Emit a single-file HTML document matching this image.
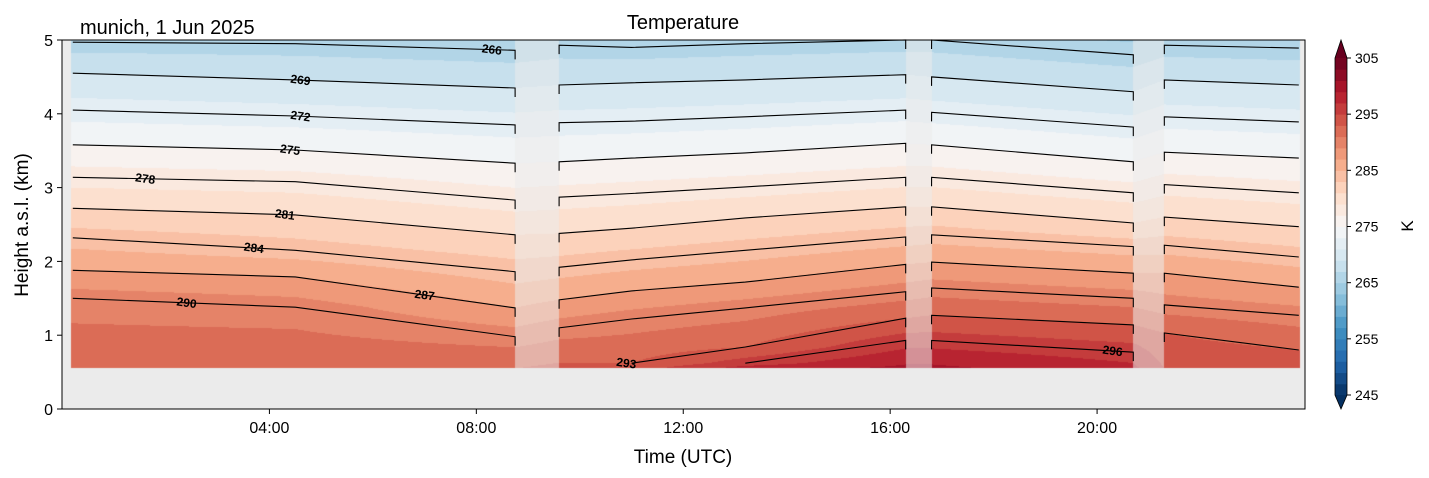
<!DOCTYPE html>
<html><head><meta charset="utf-8"><style>
html,body{margin:0;padding:0;background:#fff;}
#wrap{position:relative;width:1429px;height:478px;overflow:hidden;}
canvas,svg{position:absolute;left:0;top:0;}
text{font-family:"Liberation Sans",sans-serif;fill:#000;}
</style></head><body>
<div id="wrap">
<canvas id="cv" width="1429" height="478"></canvas>
<svg id="sv" width="1429" height="478"></svg>
</div>
<script>
// ---- data ----
const times=[0.2,4.5,8.75,9.6,11,13.2,16.3,16.8,20.7,21.3,23.9];
const contourLevels=[266,269,272,275,278,281,284,287,290,293,296];
const heightsT0=[4.97,4.55,4.05,3.58,3.14,2.72,2.32,1.88,1.50,null,null];
const heightsT1=[4.95,4.46,3.97,3.51,3.08,2.63,2.15,1.79,1.38,null,null];
const heightsT2=[4.86,4.35,3.85,3.33,2.83,2.36,1.86,1.37,0.98,null,null];
const heightsT3=[4.93,4.39,3.88,3.35,2.87,2.38,1.92,1.48,1.10,null,null];
const heightsT4=[4.90,4.42,3.90,3.40,2.92,2.45,2.02,1.60,1.22,0.62,null];
const heightsT5=[4.95,4.46,3.96,3.47,3.01,2.59,2.15,1.72,1.37,0.84,0.62];
const heightsT6=[5.00,4.53,4.05,3.60,3.14,2.74,2.33,1.96,1.59,1.23,0.93];
const heightsT7=[5.00,4.50,4.02,3.58,3.14,2.74,2.36,1.99,1.64,1.27,0.93];
const heightsT8=[4.80,4.30,3.82,3.35,2.93,2.52,2.20,1.84,1.50,1.14,0.77];
const heightsT9=[4.93,4.46,3.96,3.48,3.04,2.60,2.22,1.84,1.41,1.03,null];
const heightsT10=[4.89,4.39,3.89,3.40,2.93,2.47,2.06,1.65,1.27,0.80,null];
const surfaceT=[292.8,292.8,293,293.5,294,298,299.5,299.5,297.5,295,294.5];
const surfaceHeight=0.55;
const dataSegments=[[0.2,8.75],[9.6,16.3],[16.8,20.7],[21.3,23.9]];
const gaps=[[8.75,9.6],[16.3,16.8],[20.7,21.3]];
const labelLevels=[266,269,272,275,278,281,284,287,290,293,296];
const labelTimes=[8.3,4.6,4.6,4.4,1.6,4.3,3.7,7.0,2.4,10.9,20.3];
const xTicks=[4,8,12,16,20];
const xTickLabels=["04:00","08:00","12:00","16:00","20:00"];
const yTicks=[0,1,2,3,4,5];
const cbTicks=[245,255,265,275,285,295,305];
const cbMin=245,cbMax=305,cbStep=2;
const heights=[heightsT0,heightsT1,heightsT2,heightsT3,heightsT4,heightsT5,heightsT6,heightsT7,heightsT8,heightsT9,heightsT10];

// ---- axes ----
const PX0=62,PX1=1305,PY0=40,PY1=409;
const xs=t=>62.5+t*(1304-62.5)/24;
const ys=z=>PY1-z*(PY1-PY0)/5;
const zs=y=>(PY1-y)*5/(PY1-PY0);
const ts=x=>(x-62.5)*24/(1304-62.5);

const anchors=["#053061","#2166ac","#4393c3","#92c5de","#d1e5f0","#f7f7f7","#fddbc7","#f4a582","#d6604d","#b2182b","#67001f"].map(h=>[parseInt(h.slice(1,3),16),parseInt(h.slice(3,5),16),parseInt(h.slice(5,7),16)]);
function cmap(f){f=Math.max(0,Math.min(1,f));const p=f*10,i=Math.min(9,Math.floor(p)),w=p-i;return anchors[i].map((c,k)=>Math.round(c+(anchors[i+1][k]-c)*w));}
function bandColor(idx){const n=(cbMax-cbMin)/cbStep;if(idx<0)return anchors[0];if(idx>=n)return anchors[10];return cmap((idx+0.5)/n);}
const rgb=c=>`rgb(${c[0]},${c[1]},${c[2]})`;

function profile(i,z){
  const pts=[[surfaceHeight,surfaceT[i]]];
  heights[i].forEach((h,k)=>{if(h!==null)pts.push([h,contourLevels[k]]);});
  pts.sort((a,b)=>a[0]-b[0]);
  for(let k=0;k<pts.length-1;k++){if(z<=pts[k+1][0]){const a=pts[k],b=pts[k+1];return a[1]+(b[1]-a[1])*(z-a[0])/(b[0]-a[0]);}}
  const a=pts[pts.length-2],b=pts[pts.length-1];return b[1]+(b[1]-a[1])*(z-b[0])/(b[0]-a[0]);
}
function field(t,z){
  let i=0;while(i<times.length-2&&t>times[i+1])i++;
  let w=(t-times[i])/(times[i+1]-times[i]);w=Math.max(0,Math.min(1,w));
  return profile(i,z)*(1-w)+profile(i+1,z)*w;
}

// ---- canvas field ----
const cv=document.getElementById('cv'),ctx=cv.getContext('2d');
ctx.fillStyle="#ebebeb";ctx.fillRect(PX0,PY0,PX1-PX0,PY1-PY0);
const xa=Math.round(xs(0.17)),xb=Math.round(xs(23.92)),yb=Math.round(ys(surfaceHeight));
const img=ctx.getImageData(xa,PY0,xb-xa,yb-PY0);
for(let x=xa;x<xb;x++){const t=ts(x+0.5);
  let inGap=gaps.some(g=>t>g[0]&&t<g[1]);
  for(let y=PY0;y<yb;y++){const T=field(t,zs(y+0.5));
    let c=bandColor(Math.floor((T-cbMin)/cbStep));
    if(inGap)c=c.map(v=>Math.round(v*0.45+235*0.55));
    const o=((y-PY0)*(xb-xa)+(x-xa))*4;img.data[o]=c[0];img.data[o+1]=c[1];img.data[o+2]=c[2];img.data[o+3]=255;}}
ctx.putImageData(img,xa,PY0);

// ---- svg ----
const NS="http://www.w3.org/2000/svg",sv=document.getElementById('sv');
function mk(tag,attrs,parent){const e=document.createElementNS(NS,tag);for(const k in attrs)e.setAttribute(k,attrs[k]);(parent||sv).appendChild(e);return e;}
function txt(s,attrs,parent){const e=mk('text',attrs,parent);e.textContent=s;return e;}

// contour lines
const gLines=mk('g',{});


contourLevels.forEach((L,k)=>{
  dataSegments.forEach((seg,si)=>{
    const pts=[];times.forEach((t,i)=>{if(t>=seg[0]-1e-6&&t<=seg[1]+1e-6&&heights[i][k]!==null)pts.push([t,heights[i][k]]);});
    if(pts.length<2)return;
    let d="";
    const first=pts[0],last=pts[pts.length-1];
    if(si>0&&first[0]===seg[0])d+=`M${xs(first[0])},${ys(first[1])+9}L`;else d+="M";
    d+=pts.map(p=>`${xs(p[0]).toFixed(1)},${ys(p[1]).toFixed(1)}`).join("L");
    if(si<dataSegments.length-1&&last[0]===seg[1])d+=`L${xs(last[0])},${ys(last[1])+9}`;
    const p=mk('path',{d:d,fill:'none',stroke:'#000','stroke-width':1.1},gLines);
    
    
  });
});
// contour labels
labelLevels.forEach((L,j)=>{
  const k=contourLevels.indexOf(L),t=labelTimes[j];
  let i=0;while(i<times.length-2&&t>times[i+1])i++;
  const a=heights[i][k],b=heights[i+1][k];
  let h=a===null?b:(b===null?a:a+(b-a)*(t-times[i])/(times[i+1]-times[i]));
  if(h===null)return;
  const e=txt(String(L),{x:xs(t),y:ys(h)+4,'text-anchor':'middle','font-size':12,'font-weight':'bold',transform:`rotate(8 ${xs(t)} ${ys(h)})`});
  
  
});

// axes frame
const fr=mk('rect',{x:PX0,y:PY0,width:PX1-PX0,height:PY1-PY0,fill:'none',stroke:'#000','stroke-width':1});


xTicks.forEach((t,i)=>{
  mk('line',{x1:xs(t),x2:xs(t),y1:PY1,y2:PY1+5,stroke:'#000'});
  const e=txt(xTickLabels[i],{x:xs(t),y:PY1+24,'text-anchor':'middle','font-size':16});
  
  
});
yTicks.forEach(v=>{
  mk('line',{x1:PX0-5,x2:PX0,y1:ys(v),y2:ys(v),stroke:'#000'});
  const e=txt(String(v),{x:PX0-9,y:ys(v)+6,'text-anchor':'end','font-size':16});
  
  
});
let e;
e=txt("Time (UTC)",{x:683,y:463,'text-anchor':'middle','font-size':19});

e=txt("Height a.s.l. (km)",{x:28,y:225,'text-anchor':'middle','font-size':19,transform:'rotate(-90 28 225)'});

e=txt("Temperature",{x:683,y:29,'text-anchor':'middle','font-size':20});

e=txt("munich, 1 Jun 2025",{x:80,y:34,'font-size':20});


// colorbar
const CBX=1335,CBW=12,CBY0=58,CBY1=395;
const cbs=v=>CBY1-(v-cbMin)*(CBY1-CBY0)/(cbMax-cbMin);
const gcb=mk('g',{});


const nb=(cbMax-cbMin)/cbStep;
for(let b=0;b<nb;b++){mk('rect',{x:CBX,y:cbs(cbMin+(b+1)*cbStep),width:CBW,height:cbs(cbMin+b*cbStep)-cbs(cbMin+(b+1)*cbStep)+0.5,fill:rgb(bandColor(b))},gcb);}
mk('polygon',{points:`${CBX},${CBY0} ${CBX+CBW/2},${PY0} ${CBX+CBW},${CBY0}`,fill:rgb(bandColor(nb))},gcb);
mk('polygon',{points:`${CBX},${CBY1} ${CBX+CBW/2},${PY1} ${CBX+CBW},${CBY1}`,fill:rgb(bandColor(-1))},gcb);
mk('polygon',{points:`${CBX},${CBY0} ${CBX+CBW/2},${PY0} ${CBX+CBW},${CBY0} ${CBX+CBW},${CBY1} ${CBX+CBW/2},${PY1} ${CBX},${CBY1}`,fill:'none',stroke:'#000','stroke-width':0.8},gcb);
cbTicks.forEach(v=>{
  mk('line',{x1:CBX+CBW,x2:CBX+CBW+4,y1:cbs(v),y2:cbs(v),stroke:'#000'},gcb);
  const t=txt(String(v),{x:CBX+CBW+8,y:cbs(v)+5,'font-size':14},gcb);
  
  
});
e=txt("K",{x:1413,y:226,'text-anchor':'middle','font-size':17,transform:'rotate(-90 1413 226)'});

</script>
</body></html>
